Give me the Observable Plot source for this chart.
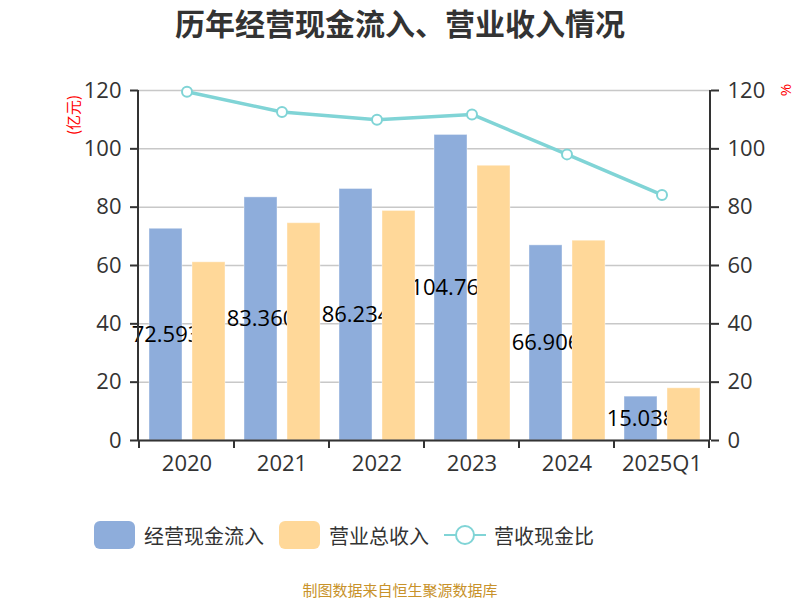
<!DOCTYPE html>
<html><head><meta charset="utf-8">
<script src="https://cdn.jsdelivr.net/npm/d3@7"></script>
<script src="https://cdn.jsdelivr.net/npm/@observablehq/plot@0.6"></script>
<style>
body{margin:0;width:800px;height:600px;overflow:hidden;background:#fff;font-family:"Open Sans","Noto Sans CJK SC",sans-serif;}
#title{height:44px;line-height:44px;text-align:center;font-size:30px;font-weight:bold;color:#333;font-family:"Noto Sans CJK SC",sans-serif;}
#chart{height:446px;}
#legend{height:90px;display:flex;justify-content:flex-start;align-items:center;padding-left:94px;font-size:20px;color:#333;font-family:"Noto Sans CJK SC",sans-serif;}
.item{display:flex;align-items:center;margin-right:15px;}
.sw{width:41px;height:28px;border-radius:6px;margin-right:9px;}
#caption{height:20px;line-height:20px;text-align:center;font-size:15px;color:#c8922a;font-family:"Noto Sans CJK SC",sans-serif;}
</style></head>
<body>
<div id="title">历年经营现金流入、营业收入情况</div>
<div id="chart"></div>
<div id="legend"></div>
<div id="caption">制图数据来自恒生聚源数据库</div>
<script>
const years = ["2020","2021","2022","2023","2024","2025Q1"];
const cashIn = [72.593, 83.360, 86.234, 104.763, 66.906, 15.038];
const revenue = [61.1, 74.5, 78.7, 94.2, 68.5, 17.9];
const ratio = [119.6, 112.6, 110.0, 111.8, 98.1, 84.2];
const yTicks = [0, 20, 40, 60, 80, 100, 120];
const seriesNames = ["经营现金流入", "营业总收入", "营收现金比"];
const colors = ["#8eaddb", "#ffd899", "#80d4d6"];

const data = years.map((y, i) => ({year: y, cash: cashIn[i], rev: revenue[i], ratio: ratio[i], label: cashIn[i].toFixed(3)}));

const plot = Plot.plot({
  width: 800, height: 446,
  marginTop: 46, marginBottom: 50, marginLeft: 138, marginRight: 90,
  style: {fontSize: "22px", fontFamily: '"Open Sans","Noto Sans CJK SC",sans-serif', color: "#333", overflow: "visible", background: "transparent"},
  x: {type: "band", domain: years, padding: 0},
  y: {domain: [0, 120]},
  marks: [
    Plot.gridY(yTicks, {stroke: "#c8c8c8", strokeOpacity: 1, strokeWidth: 1.5}),
    Plot.barY(data, {x: "year", y: "cash", fill: colors[0], insetLeft: 10, insetRight: 52, stroke: "#fff", strokeOpacity: 0.4, strokeWidth: 1}),
    Plot.text(data, {x: "year", y: d => d.cash / 2, text: "label", dx: -21, fill: "#000", fontSize: 22}),
    Plot.barY(data, {x: "year", y: "rev", fill: colors[1], insetLeft: 53, insetRight: 9, stroke: "#fff", strokeOpacity: 0.4, strokeWidth: 1}),
    Plot.ruleY([0], {stroke: "#333", strokeWidth: 2}),
    Plot.line(data, {x: "year", y: "ratio", stroke: colors[2], strokeWidth: 3.5}),
    Plot.dot(data, {x: "year", y: "ratio", r: 5, fill: "#fff", stroke: colors[2], strokeWidth: 2}),
    Plot.axisY(yTicks, {anchor: "left", label: null, tickSize: 8, tickPadding: 9, strokeWidth: 2, fontSize: 22}),
    Plot.axisY(yTicks, {anchor: "right", label: null, tickSize: 8, tickPadding: 9, strokeWidth: 2, fontSize: 22}),
    Plot.axisX({label: null, tickSize: 0, tickPadding: 15, fontSize: 22})
  ]
});
document.getElementById("chart").appendChild(plot);

const sx = plot.scale("x"), sy = plot.scale("y");
const svg = d3.select(plot);
const y0 = sy.apply(0), y1 = sy.apply(120);
const left = sx.range[0], right = sx.range[1];
const g = svg.append("g").attr("stroke", "#333").attr("stroke-width", 2);
[left, right].forEach(xp => g.append("line").attr("x1", xp).attr("x2", xp).attr("y1", y1).attr("y2", y0));
const bounds = years.map(v => sx.apply(v)).concat([sx.apply(years[years.length - 1]) + sx.bandwidth]);
bounds.forEach(xp => g.append("line").attr("x1", xp).attr("x2", xp).attr("y1", y0).attr("y2", y0 + 8));

svg.append("text").attr("transform", `translate(75,71) rotate(-90)`).attr("text-anchor", "middle").attr("dominant-baseline", "middle")
  .attr("fill", "#ff0000").attr("font-size", 15).attr("font-family", '"Noto Sans CJK SC",sans-serif').text("(亿元)");
svg.append("text").attr("transform", `translate(787,46) rotate(-90)`).attr("text-anchor", "middle").attr("dominant-baseline", "middle")
  .attr("fill", "#ff0000").attr("font-size", 15).text("%");

const lg = d3.select("#legend");
seriesNames.forEach((name, i) => {
  const it = lg.append("div").attr("class", "item");
  if (i < 2) {
    it.append("div").attr("class", "sw").style("background", colors[i]);
  } else {
    const s = it.append("svg").attr("width", 42).attr("height", 28).style("margin-right", "8px");
    s.append("line").attr("x1", 0).attr("x2", 42).attr("y1", 14).attr("y2", 14).attr("stroke", colors[2]).attr("stroke-width", 2);
    s.append("circle").attr("cx", 21).attr("cy", 14).attr("r", 9).attr("fill", "#fff").attr("stroke", colors[2]).attr("stroke-width", 2);
  }
  it.append("span").text(name);
});
</script>
</body></html>
